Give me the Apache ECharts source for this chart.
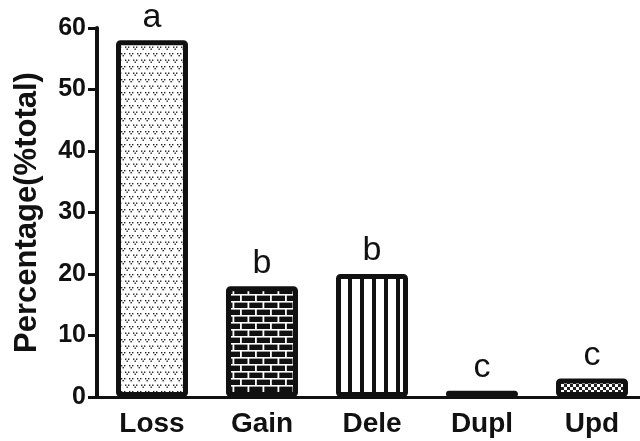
<!DOCTYPE html>
<html>
<head>
<meta charset="utf-8">
<script src="https://cdn.jsdelivr.net/npm/echarts@6/dist/echarts.min.js"></script>
<style>html,body{margin:0;padding:0;background:#fff;}#c{width:640px;height:441px;}</style>
</head>
<body>
<div id="c"></div>
<script>
const categories = ['Loss', 'Gain', 'Dele', 'Dupl', 'Upd'];
const values = [58, 18, 20, 1, 3];
const letters = ['a', 'b', 'b', 'c', 'c'];
const yMin = 0, yMax = 60, yStep = 10;

function mk(w, h, draw) {
  const c = document.createElement('canvas');
  c.width = w; c.height = h;
  const g = c.getContext('2d');
  draw(g);
  return c;
}
const dotPat = mk(8, 13, g => {
  g.fillStyle = '#fff'; g.fillRect(0, 0, 8, 13);
  g.fillStyle = '#222';
  const v = (x, y) => { g.fillRect(x, y, 1.4, 1.4); g.fillRect(x + 3, y, 1.4, 1.4); g.fillRect(x + 1.5, y + 2, 1.4, 1.4); };
  v(1, 1); v(5, 7.5); v(-3, 7.5);
});
const brickPat = mk(15, 14, g => {
  g.fillStyle = '#111'; g.fillRect(0, 0, 15, 14);
  g.fillStyle = '#fff';
  g.fillRect(0, 0, 15, 1.6);
  g.fillRect(0, 7, 15, 1.6);
  g.fillRect(0, 0, 1.8, 7);
  g.fillRect(7.5, 7, 1.8, 7);
});
const stripePat = mk(12, 2, g => {
  g.fillStyle = '#fff'; g.fillRect(0, 0, 12, 2);
  g.fillStyle = '#111'; g.fillRect(0, 0, 4, 2);
});
const checkPat = mk(6, 6, g => {
  g.fillStyle = '#fff'; g.fillRect(0, 0, 6, 6);
  g.fillStyle = '#222'; g.fillRect(0, 0, 3, 3); g.fillRect(3, 3, 3, 3);
});
const fills = [
  { image: dotPat, repeat: 'repeat' },
  { image: brickPat, repeat: 'repeat' },
  { image: stripePat, repeat: 'repeat' },
  '#fff',
  { image: checkPat, repeat: 'repeat' }
];
const borders = [5, 5, 5, 3.5, 5];

const chart = echarts.init(document.getElementById('c'), null, { renderer: 'canvas' });
const font = 'Liberation Sans, Arial, sans-serif';
chart.setOption({
  animation: false,
  backgroundColor: '#fff',
  grid: { left: 97, top: 28, width: 550, height: 369, containLabel: false, outerBoundsMode: 'none' },
  xAxis: {
    type: 'category',
    data: categories,
    axisLine: { lineStyle: { color: '#111', width: 3 } },
    axisTick: { alignWithLabel: true, length: 10, lineStyle: { color: '#111', width: 3 } },
    axisLabel: { color: '#111', fontSize: 28, fontWeight: 'bold', fontFamily: font, margin: 13 }
  },
  yAxis: {
    type: 'value',
    min: yMin, max: yMax, interval: yStep,
    name: 'Percentage(%total)',
    nameLocation: 'middle',
    nameGap: 54,
    nameTextStyle: { color: '#111', fontSize: 31, fontWeight: 'bold', fontFamily: font },
    axisLine: { show: true, lineStyle: { color: '#111', width: 4 } },
    axisTick: { show: true, length: 9, lineStyle: { color: '#111', width: 3 } },
    axisLabel: { color: '#111', fontSize: 25, fontWeight: 'bold', fontFamily: font, margin: 11 },
    splitLine: { show: false }
  },
  series: [{
    type: 'bar',
    barWidth: 72,
    data: values.map((v, i) => ({
      value: v,
      itemStyle: { color: fills[i], borderColor: '#111', borderWidth: borders[i], borderRadius: 2 }
    })),
    label: {
      show: true, position: 'top', distance: 6,
      color: '#111', fontSize: 34, fontFamily: font,
      formatter: p => letters[p.dataIndex]
    }
  }]
});
</script>
</body>
</html>
